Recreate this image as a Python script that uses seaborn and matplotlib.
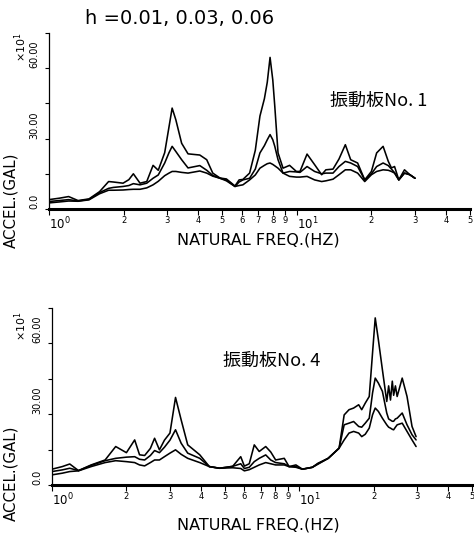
import numpy as np
import pandas as pd
import matplotlib
matplotlib.use("Agg")
import matplotlib.pyplot as plt
import seaborn as sns

# ---------------- data ----------------
damping = ["0.01", "0.03", "0.06"]

freq_1 = [1.00, 1.10, 1.20, 1.31, 1.45, 1.60, 1.74, 1.82, 1.99, 2.10, 2.19, 2.33, 2.48, 2.63,
          2.76, 2.93, 3.05, 3.14, 3.25, 3.43, 3.64, 4.06, 4.33, 4.58, 4.90, 5.20, 5.63, 5.85,
          6.06, 6.45, 6.80, 7.10, 7.40, 7.60, 7.80, 8.00, 8.15, 8.40, 8.80, 9.35, 9.96, 10.3,
          11.0, 11.8, 12.6, 13.1, 14.0, 14.8, 15.7, 16.5, 17.6, 18.8, 20.0, 21.0, 22.3, 23.4,
          24.1, 24.8, 25.8, 27.2, 28.6, 30.0]
acc_1_h001 = [4.0, 4.6, 5.3, 3.6, 4.3, 7.4, 11.7, 11.5, 11.0, 12.5, 15.0, 11.0, 11.7, 18.6,
              16.5, 24.0, 35.0, 43.0, 38.0, 28.0, 23.5, 23.0, 21.0, 15.3, 13.2, 12.8, 9.8, 12.4,
              12.6, 15.3, 25.0, 39.6, 47.0, 54.0, 64.6, 55.0, 43.8, 23.9, 17.4, 18.6, 16.0, 16.0,
              23.4, 18.9, 14.6, 16.7, 17.0, 21.3, 27.4, 21.0, 19.6, 12.4, 16.0, 23.9, 26.7, 20.3,
              17.5, 18.1, 12.4, 16.7, 14.6, 13.1]
acc_1_h003 = [3.2, 3.6, 4.0, 3.4, 4.1, 7.0, 8.8, 9.2, 9.6, 10.0, 10.8, 10.3, 11.0, 13.1,
              14.5, 19.6, 24.0, 26.7, 24.5, 21.0, 17.5, 18.5, 16.5, 14.3, 13.1, 12.4, 9.6, 11.5,
              12.4, 13.1, 17.0, 23.9, 27.0, 29.5, 31.7, 29.5, 26.7, 21.0, 15.3, 16.0, 15.8, 15.6,
              18.1, 16.0, 15.0, 15.3, 15.3, 18.1, 20.3, 19.6, 18.1, 12.4, 15.0, 18.1, 19.6, 18.5,
              17.0, 15.5, 12.4, 15.3, 14.6, 13.1]
acc_1_h006 = [2.6, 3.0, 3.4, 3.3, 3.9, 6.5, 8.0, 8.0, 8.1, 8.3, 8.4, 8.4, 9.0, 10.3,
              11.8, 14.2, 15.3, 16.0, 16.0, 15.6, 15.3, 16.2, 15.3, 14.0, 13.1, 12.0, 9.6, 10.0,
              10.3, 12.4, 14.5, 17.4, 18.6, 19.3, 19.6, 19.0, 18.4, 17.4, 15.3, 13.9, 13.6, 13.6,
              13.9, 12.4, 11.7, 12.0, 12.7, 14.6, 16.7, 16.7, 15.3, 11.7, 14.6, 16.0, 16.7, 16.5,
              16.0, 15.3, 12.4, 15.3, 14.6, 13.1]

freq_4 = [1.00, 1.10, 1.18, 1.28, 1.44, 1.64, 1.81, 2.00, 2.16, 2.26, 2.37, 2.50, 2.60, 2.72,
          2.85, 3.00, 3.16, 3.33, 3.54, 3.96, 4.33, 4.76, 5.38, 5.80, 6.00, 6.28, 6.58, 6.89,
          7.32, 7.67, 8.03, 8.70, 9.10, 9.70, 10.3, 11.3, 11.9, 13.1, 14.5, 15.2, 15.9, 16.6,
          17.4, 17.9, 18.5, 19.2, 19.8, 20.3, 20.9, 21.7, 22.6, 23.0, 23.4, 23.8, 24.1, 24.5,
          24.9, 26.1, 27.3, 28.6, 29.7]
acc_4_h001 = [6.7, 7.8, 8.9, 6.1, 8.5, 10.6, 16.3, 13.7, 19.1, 12.8, 12.5, 15.5, 19.8, 14.9,
              19.0, 22.0, 37.1, 27.6, 17.0, 12.8, 7.8, 7.1, 7.9, 12.0, 8.0, 9.0, 17.0, 14.2,
              16.3, 14.0, 10.6, 11.3, 7.8, 8.5, 6.7, 7.5, 9.2, 11.3, 15.6, 29.7, 31.9, 32.6,
              34.0, 31.9, 34.7, 37.5, 56.0, 70.8, 61.6, 48.9, 35.4, 42.0, 36.0, 44.0, 38.0, 42.0,
              37.5, 45.3, 37.5, 24.8, 20.5]
acc_4_h003 = [5.7, 6.4, 7.1, 6.1, 8.3, 10.3, 11.3, 11.8, 12.0, 10.9, 10.6, 12.5, 14.6, 13.7,
              16.0, 19.0, 23.4, 17.7, 13.5, 11.3, 7.8, 7.1, 7.9, 9.0, 7.0, 7.5, 9.9, 11.3,
              12.75, 10.6, 9.5, 9.0, 7.8, 7.8, 6.7, 7.5, 9.0, 11.3, 15.6, 25.5, 26.2, 26.9,
              24.8, 24.5, 26.2, 28.3, 39.0, 45.3, 43.2, 39.7, 30.5, 28.0, 27.5, 27.0, 27.0, 28.0,
              28.3, 30.5, 25.5, 21.3, 19.1]
acc_4_h006 = [4.3, 5.0, 5.7, 6.0, 7.8, 9.5, 10.3, 9.9, 9.5, 8.5, 8.1, 9.5, 10.6, 10.6,
              12.0, 13.5, 14.9, 13.0, 11.3, 9.5, 7.8, 7.1, 7.3, 7.0, 6.0, 6.5, 7.5, 8.5,
              9.5, 9.0, 8.5, 8.5, 7.8, 7.5, 6.7, 7.5, 8.8, 11.3, 15.6, 19.1, 22.0, 22.7,
              22.0, 20.5, 21.5, 24.1, 29.75, 32.6, 31.2, 28.3, 25.5, 24.5, 24.1, 23.6, 23.4, 24.5,
              25.5, 26.2, 22.7, 19.1, 16.3]

x_ticks = [1, 2, 3, 4, 5, 6, 7, 8, 9, 10, 20, 30, 40, 50]
x_tick_labels = ["$10^0$", "2", "3", "4", "5", "6", "7", "8", "9", "$10^1$", "2", "3", "4", "5"]
y_ticks = [0, 15, 30, 45, 60, 75]
y_tick_labels = ["0.0", "", "30.00", "", "60.00", ""]
title = "h =0.01, 0.03, 0.06"
panel_labels = ["振動板No. 1", "振動板No. 4"]
x_label = "NATURAL FREQ.(HZ)"
y_label = "ACCEL.(GAL)"


def long_frame(freq, series):
    rows = []
    for h, vals in zip(damping, series):
        for f, v in zip(freq, vals):
            rows.append({"freq": f, "accel": v, "h": h})
    return pd.DataFrame(rows)


df1 = long_frame(freq_1, [acc_1_h001, acc_1_h003, acc_1_h006])
df4 = long_frame(freq_4, [acc_4_h001, acc_4_h003, acc_4_h006])

# ---------------- style ----------------
sns.set_style("white")
plt.rcParams["font.family"] = ["DejaVu Sans", "Noto Sans CJK JP"]
plt.rcParams["text.color"] = "black"
plt.rcParams["xtick.color"] = "black"
plt.rcParams["ytick.color"] = "black"

W, H = 474, 539
fig = plt.figure(figsize=(W / 100, H / 100), dpi=100)


def rect(x0, y0, x1, y1):
    return [x0 / W, 1 - y1 / H, (x1 - x0) / W, (y1 - y0) / H]


def px(x, y):
    return x / W, 1 - y / H


axes_info = [
    (rect(49, 33, 470, 209), df1, panel_labels[0], (330, 101), 209),
    (rect(52, 308, 472, 485), df4, panel_labels[1], (223, 361), 485),
]

for i, (r, df, plabel, (lx, ly), base_y) in enumerate(axes_info):
    ax = fig.add_axes(r)
    sns.lineplot(data=df, x="freq", y="accel", hue="h", palette=["black"] * 3,
                 legend=False, ax=ax, estimator=None, sort=False, linewidth=1.15)
    ax.set_xscale("log")
    ax.set_xlim(1, 50)
    ax.set_ylim(0, 75)
    for s in ["top", "right"]:
        ax.spines[s].set_visible(False)
    ax.spines["bottom"].set_linewidth(2.2)
    ax.spines["left"].set_linewidth(0.9)
    ax.spines["bottom"].set_color("black")
    ax.spines["left"].set_color("black")
    ax.set_xticks(x_ticks)
    ax.set_xticklabels(x_tick_labels)
    ax.xaxis.set_minor_locator(matplotlib.ticker.NullLocator())
    ax.tick_params(axis="x", direction="out", length=4, width=0.8, pad=1.0,
                   labelsize=6, colors="black", bottom=True)
    for j, t in enumerate(ax.get_xticklabels()):
        if x_tick_labels[j].startswith("$"):
            t.set_fontsize(8.5)
            t.set_ha("left")
    ax.set_yticks(y_ticks)
    ax.set_yticklabels(y_tick_labels, rotation=90, va="bottom")
    ax.tick_params(axis="y", direction="out", length=3, width=0.8, pad=4,
                   labelsize=7, colors="black", left=True)
    ax.set_xlabel("")
    ax.set_ylabel("")
    ax.grid(False)

    # panel label
    fig.text(*px(lx, ly), plabel, fontsize=13, va="center", ha="left",
             family=["Noto Sans CJK JP", "DejaVu Sans"], color="black")
    # x label
    xl_y = base_y + 31 if i == 0 else base_y + 40
    fig.text(*px(258, xl_y), x_label, fontsize=11.5, ha="center", va="center", color="black")
    # y label
    fig.text(*px(11, base_y - 9 if i == 0 else base_y - 12), y_label, fontsize=10.8,
             rotation=90, ha="center", va="center", color="black")
    # multiplier
    fig.text(*px(21, base_y - 162 if i == 0 else base_y - 159), "×10$^{1}$", fontsize=8,
             rotation=90, ha="center", va="center", color="black")

fig.text(*px(85, 18), title, fontsize=14, ha="left", va="center", color="black")

fig.savefig("out.png", dpi=100)
